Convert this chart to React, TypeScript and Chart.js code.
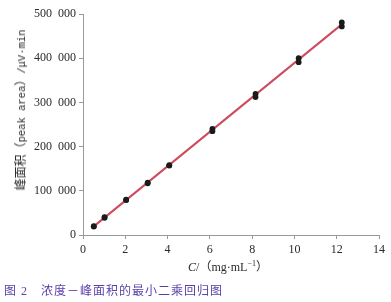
import React, { useEffect, useRef } from "react";
import { Chart, registerables } from "chart.js";

Chart.register(...registerables);

// concentrations (mg/mL)
const concentrations = [0.51, 1.02, 2.04, 3.06, 4.08, 6.12, 8.16, 10.2, 12.24];
// peak areas, replicate measurements
const areaRep1 = [19000, 39000, 79000, 117000, 157000, 235000, 312000, 391000, 472000];
const areaRep2 = [20000, 40500, 80000, 118500, 158000, 240000, 319000, 400000, 481000];
// least-squares regression line endpoints
const fitX = [0.51, 12.24];
const fitY = [19500, 476500];

const xTickLabels = ["0", "2", "4", "6", "8", "10", "12", "14"];
const yTickLabels = ["0", "100\u2002000", "200\u2002000", "300\u2002000", "400\u2002000", "500\u2002000"];

const caption = "图 2　浓度－峰面积的最小二乘回归图";

const SERIF = '"Liberation Serif", "DejaVu Serif", "Noto Sans CJK SC", serif';
const MONO = '"Liberation Mono", "Noto Sans CJK SC", monospace';

export default function App() {
  const ref = useRef<HTMLCanvasElement | null>(null);

  useEffect(() => {
    if (!ref.current) return;
    const points: { x: number; y: number }[] = [];
    concentrations.forEach((c, i) => {
      points.push({ x: c, y: areaRep1[i] });
      points.push({ x: c, y: areaRep2[i] });
    });
    const fit = fitX.map((x, i) => ({ x, y: fitY[i] }));

    const chart = new Chart(ref.current, {
      type: "scatter",
      data: {
        datasets: [
          {
            type: "line",
            label: "fit",
            data: fit,
            borderColor: "#cc4b5c",
            borderWidth: 2,
            pointRadius: 0,
            showLine: true,
            order: 1,
          } as any,
          {
            label: "measured",
            data: points,
            backgroundColor: "#1a1a1a",
            borderColor: "#1a1a1a",
            pointRadius: 2.9,
            borderWidth: 0,
            order: 0,
          },
        ],
      },
      options: {
        animation: false,
        responsive: false,
        devicePixelRatio: 1,
        layout: { padding: { top: 14, right: 12, left: 0, bottom: 0 } },
        plugins: { legend: { display: false }, tooltip: { enabled: false } },
        scales: {
          x: {
            type: "linear",
            min: 0,
            max: 14,
            afterFit: (s: any) => {
              s.height = 67;
            },
            afterBuildTicks: (s: any) => {
              s.ticks = xTickLabels.map((_, i) => ({ value: i * 2 }));
            },
            ticks: {
              callback: (_v: any, i: number) => xTickLabels[i],
              color: "#2a2a2a",
              font: { family: SERIF, size: 12 },
              padding: 4,
              maxRotation: 0,
            },
            grid: { drawOnChartArea: false, tickLength: 4, color: "#999", lineWidth: 1 },
            border: { display: true, color: "#999", width: 1 },
          },
          y: {
            type: "linear",
            min: 0,
            max: 500000,
            afterFit: (s: any) => {
              s.width = 83;
            },
            afterBuildTicks: (s: any) => {
              s.ticks = yTickLabels.map((_, i) => ({ value: i * 100000 }));
            },
            ticks: {
              callback: (_v: any, i: number) => yTickLabels[i],
              color: "#2a2a2a",
              font: { family: SERIF, size: 12 },
              padding: 3,
            },
            grid: { drawOnChartArea: false, tickLength: 4, color: "#999", lineWidth: 1 },
            border: { display: true, color: "#999", width: 1 },
          },
        },
      },
    });
    return () => chart.destroy();
  }, []);

  return (
    <div style={{ position: "fixed", left: 0, top: 0, width: 391, height: 302, background: "#fff" }}>
      <canvas ref={ref} width={391} height={302} style={{ width: 391, height: 302, display: "block" }} />
      <div
        style={{
          position: "absolute",
          left: 20,
          top: 110,
          transform: "translate(-50%, -50%) rotate(-90deg)",
          whiteSpace: "nowrap",
          fontFamily: MONO,
          fontSize: 10.5,
          color: "#2a2a2a",
        }}
      >
        <span style={{ fontSize: 12 }}>峰面积（</span>peak area<span style={{ fontSize: 12 }}>）</span>/μV·min
      </div>
      <div
        style={{
          position: "absolute",
          left: 228,
          top: 266,
          transform: "translate(-50%, -50%)",
          whiteSpace: "nowrap",
          fontFamily: SERIF,
          fontSize: 12,
          color: "#2a2a2a",
        }}
      >
        <i>C</i>/（mg·mL<sup style={{ fontSize: 8 }}>−1</sup>）
      </div>
      <div
        style={{
          position: "absolute",
          left: 4,
          top: 290,
          transform: "translateY(-50%)",
          whiteSpace: "pre",
          fontFamily: SERIF,
          fontSize: 12,
          letterSpacing: 1,
          color: "#5a3fa6",
        }}
      >
        {caption}
      </div>
    </div>
  );
}
